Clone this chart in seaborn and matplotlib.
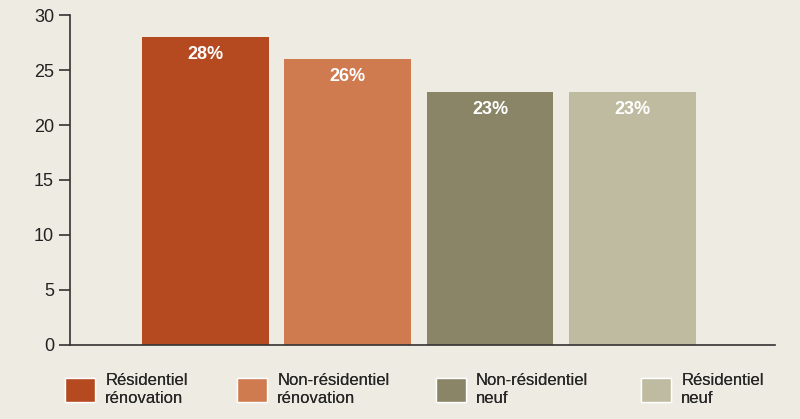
import matplotlib
matplotlib.use("Agg")
import matplotlib.pyplot as plt
import seaborn as sns
import pandas as pd
from matplotlib.patches import Patch

categories = ["Résidentiel\nrénovation", "Non-résidentiel\nrénovation", "Non-résidentiel\nneuf", "Résidentiel\nneuf"]
values = [28, 26, 23, 23]
labels = ["28%", "26%", "23%", "23%"]
colors = ["#b5491f", "#d07a4f", "#8a8566", "#bfbba0"]
bg = "#eeebe3"

sns.set_style("white")
plt.rcParams['font.family'] = ['Liberation Sans', 'DejaVu Sans']
fig = plt.figure(figsize=(8, 4.19), dpi=100, facecolor=bg)
ax = fig.add_axes([0.0875, 0.177, 0.881, 0.787], facecolor=bg)
df = pd.DataFrame({"cat": categories, "val": values})
sns.barplot(data=df, x="cat", y="val", hue="cat", palette=colors, width=0.89, ax=ax, legend=False,
            saturation=1, linewidth=0)
for i, (v, t) in enumerate(zip(values, labels)):
    ax.text(i, v - 1.6, t, ha="center", va="center", color="white", fontsize=13, fontweight="bold")
ax.set_xlim(-0.95, 4.0)
ax.set_ylim(0, 30)
ax.set_yticks(range(0, 31, 5))
ax.set_xticks([])
ax.set_xlabel(""); ax.set_ylabel("")
for s in ["top", "right"]:
    ax.spines[s].set_visible(False)
for s in ["left", "bottom"]:
    ax.spines[s].set_color("#333333"); ax.spines[s].set_linewidth(1.2)
ax.tick_params(axis="y", direction="out", length=8, width=1.2, color="#333333", labelsize=13, labelcolor="#222222", left=True)
xs = [0.065, 0.28, 0.528, 0.785]
for x, c, lab in zip(xs, colors, categories):
    leg = fig.legend([Patch(facecolor=c)], [lab], loc="lower left", bbox_to_anchor=(x, 0.0), frameon=False,
                     fontsize=12, handlelength=1.8, handleheight=1.8, handletextpad=0.6, borderpad=0.3)
    fig.add_artist(leg)
fig.savefig("out.png", dpi=100, facecolor=bg)
